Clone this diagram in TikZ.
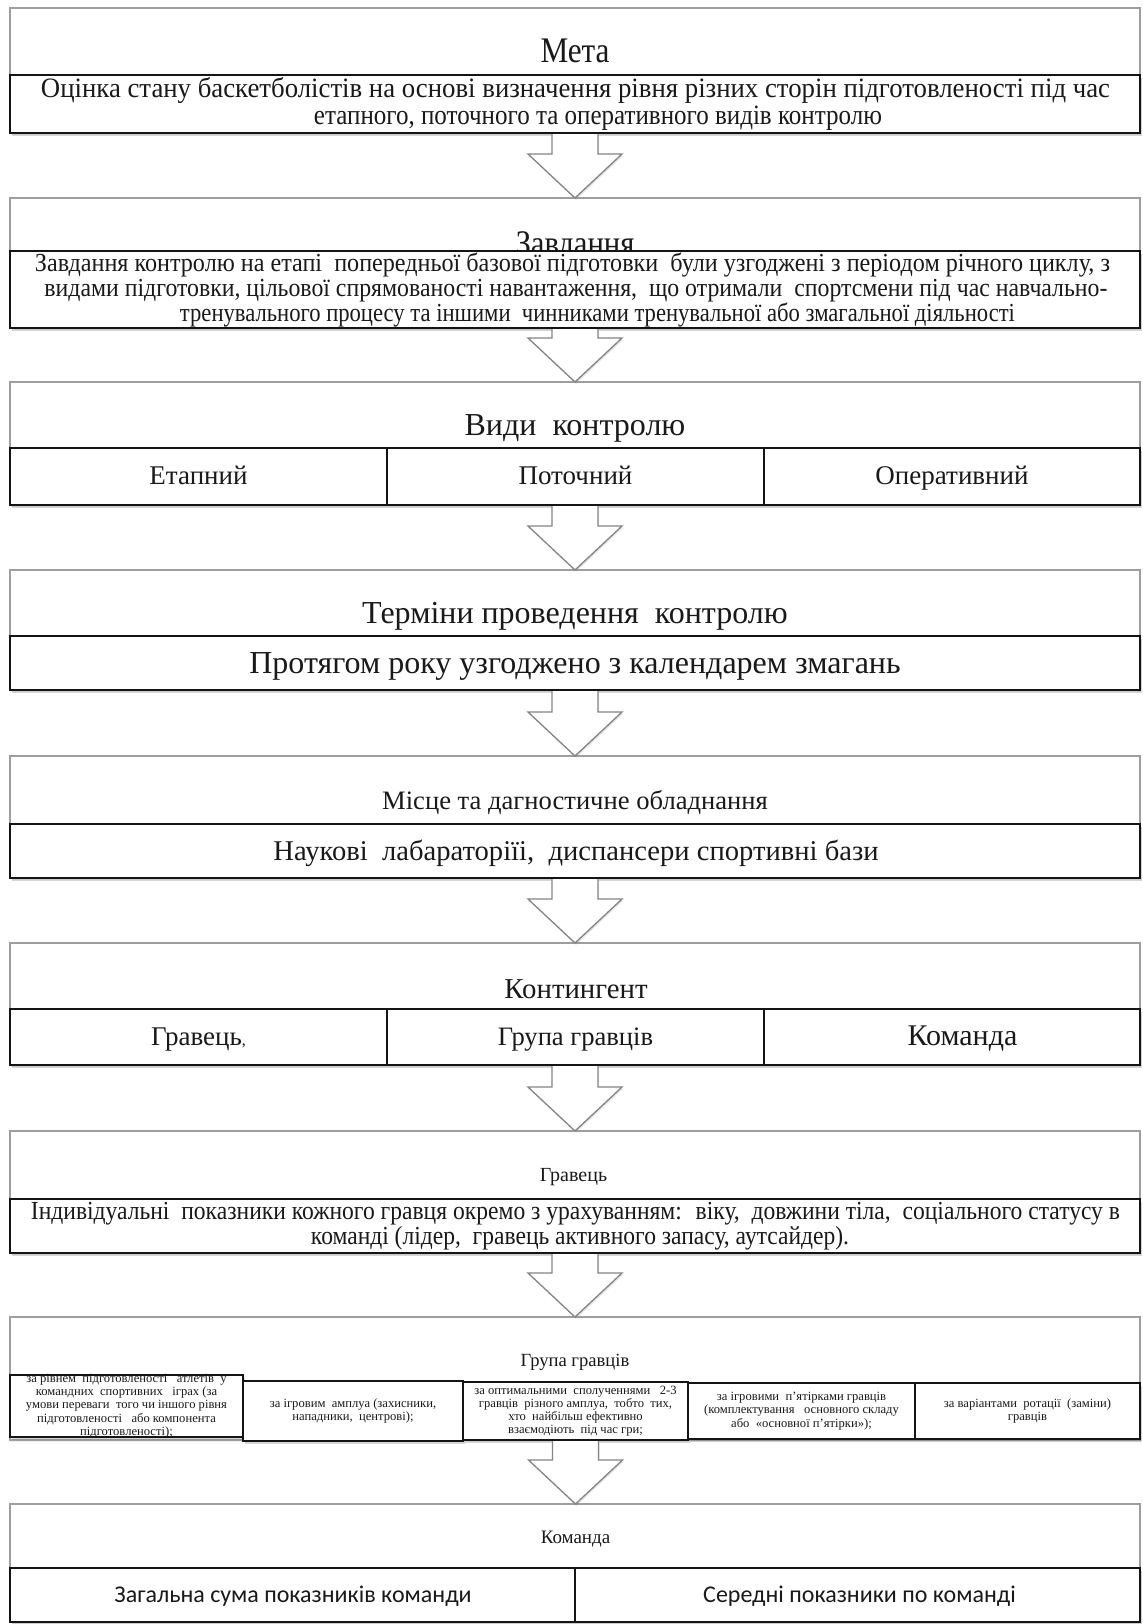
\documentclass[tikz,border=0pt]{standalone}
\usepackage{fontspec}
\setmainfont{Liberation Serif}
\newfontfamily\calibrifont{Carlito}
\usepackage{graphicx}
\usetikzlibrary{calc,fit,shadows}

% horizontally squeeze (or stretch) a line to a given width, keeping its height
\newcommand\narrowto[2]{\resizebox{#1}{\height}{#2}}
\newcommand\fsz[1]{\fontsize{#1}{#1}\selectfont}

\tikzset{
  outerbox/.style={draw=black!38, line width=0.8pt, fill=white, inner sep=0pt, outer sep=0pt,
    drop shadow={shadow xshift=0.6pt, shadow yshift=-0.9pt, opacity=0.12}},
  innerbox/.style={draw=black!92, line width=1.25pt, fill=white, inner sep=0pt, outer sep=0pt,
    drop shadow={shadow xshift=0.8pt, shadow yshift=-1.4pt, opacity=0.32}},
  cellbox/.style={draw=black!92, line width=1.25pt, inner sep=0pt, outer sep=0pt},
  txt/.style={inner sep=0pt, outer sep=0pt, anchor=base, text=black!90},
  blocktxt/.style={inner sep=0pt, outer sep=0pt, align=center, text=black!90,
    font=\fontsize{6.3}{6.6}\selectfont},
  blockarrow/.style={draw=black!48, line width=0.65pt, fill=white, line join=miter,
    drop shadow={shadow xshift=0.5pt, shadow yshift=-0.9pt, opacity=0.2}},
}

% hollow block arrow from the bottom of one box to the top of the next
\newcommand\flowarrow[2]{%
  \draw[blockarrow] let \p1=(#1), \p2=(#2) in
    ({\x1-11.5pt},{\y1-0.6pt}) -- ({\x1-11.5pt},{\y2+22pt}) -- ({\x1-23.5pt},{\y2+22pt})
    -- (\x1,\y2) -- ({\x1+23.5pt},{\y2+22pt}) -- ({\x1+11.5pt},{\y2+22pt})
    -- ({\x1+11.5pt},{\y1-0.6pt});}

\begin{document}
\begin{tikzpicture}[x=0.5pt,y=-0.5pt]
\useasboundingbox (0,0) rectangle (1142,1624);
\fill[white] (0,0) rectangle (1142,1624);

% ---------- Мета
\node[outerbox, fit={(10,8) (1140,133)}] (o1) {};
\node[txt, font=\fsz{18}] (t1) at (575,62) {\narrowto{34.5pt}{Мета}};
\node[innerbox, fit={(10,75) (1140,133)}] (i1) {};
\node[txt, font=\fsz{14}] (i1a) at (575.5,97.5)
  {\narrowto{534.5pt}{Оцінка стану баскетболістів на основі визначення рівня різних сторін підготовленості під час}};
\node[txt, font=\fsz{14}] (i1b) at (598,124.5)
  {\narrowto{284pt}{етапного, поточного та оперативного видів контролю}};

% ---------- Завдання
\node[outerbox, fit={(10,198) (1140,328)}] (o2) {};
\node[txt, font=\fsz{18}] (t2) at (575,255) {\narrowto{59.5pt}{Завдання}};
\node[innerbox, fit={(10,251) (1140,328)}] (i2) {};
\node[txt, font=\fsz{13}] (i2a) at (572.5,271)
  {\narrowto{537.5pt}{Завдання контролю на етапі~ попередньої базової підготовки~ були узгоджені з періодом річного циклу, з}};
\node[txt, font=\fsz{13}] (i2b) at (576,296)
  {\narrowto{531.5pt}{видами підготовки, цільової спрямованості навантаження,~ що отримали~ спортсмени під час навчально-}};
\node[txt, font=\fsz{13}] (i2c) at (597.5,321)
  {\narrowto{417.5pt}{тренувального процесу та іншими~ чинниками тренувальної або змагальної діяльності}};

% ---------- Види контролю
\node[outerbox, fit={(10,382) (1140,505)}] (o3) {};
\node[txt, font=\fsz{16}] (t3) at (575,435.5) {Види~ контролю};
\node[innerbox, fit={(10,448) (1140,505)}] (i3) {};
\node[cellbox, fit={(10,448) (387,505)}] (c31) {};
\node[cellbox, fit={(387,448) (764,505)}] (c32) {};
\node[cellbox, fit={(764,448) (1140,505)}] (c33) {};
\node[txt, font=\fsz{13.5}] (c31t) at (198.5,484) {Етапний};
\node[txt, font=\fsz{13.5}] (c32t) at (575.5,484) {Поточний};
\node[txt, font=\fsz{13.5}] (c33t) at (952,484) {Оперативний};

% ---------- Терміни проведення контролю
\node[outerbox, fit={(10,570) (1140,690)}] (o4) {};
\node[txt, font=\fsz{16}] (t4) at (575,623.5) {Терміни проведення~ контролю};
\node[innerbox, fit={(10,636) (1140,690)}] (i4) {};
\node[txt, font=\fsz{16}] (i4a) at (575,673) {Протягом року узгоджено з календарем змагань};

% ---------- Місце та діагностичне обладнання
\node[outerbox, fit={(10,756) (1140,878)}] (o5) {};
\node[txt, font=\fsz{13.3}] (t5) at (575,809.5) {Місце та дагностичне обладнання};
\node[innerbox, fit={(10,824) (1140,878)}] (i5) {};
\node[txt, font=\fsz{14.3}] (i5a) at (576,860.5) {Наукові~ лабараторіїі,~ диспансери спортивні бази};

% ---------- Контингент
\node[outerbox, fit={(10,943) (1140,1065)}] (o6) {};
\node[txt, font=\fsz{14.4}] (t6) at (576,998) {Контингент};
\node[innerbox, fit={(10,1009) (1140,1065)}] (i6) {};
\node[cellbox, fit={(10,1009) (387,1065)}] (c61) {};
\node[cellbox, fit={(387,1009) (764,1065)}] (c62) {};
\node[cellbox, fit={(764,1009) (1140,1065)}] (c63) {};
\node[txt, font=\fsz{13.5}] (c61t) at (198.5,1045) {Гравець{\fsz{8},}};
\node[txt, font=\fsz{13.3}] (c62t) at (575.5,1045) {Група гравців};
\node[txt, font=\fsz{15}] (c63t) at (962.5,1045) {Команда};

% ---------- Гравець
\node[outerbox, fit={(10,1131) (1140,1253)}] (o7) {};
\node[txt, font=\fsz{10}] (t7) at (573.5,1181) {Гравець};
\node[innerbox, fit={(10,1199) (1140,1253)}] (i7) {};
\node[txt, font=\fsz{13}] (i7a) at (575.5,1219.5)
  {\narrowto{544.5pt}{Індивідуальні~ показники кожного гравця окремо з урахуванням:~ віку,~ довжини тіла,~ соціального статусу в}};
\node[txt, font=\fsz{13}] (i7b) at (580,1244.5)
  {\narrowto{269pt}{команді (лідер,~ гравець активного запасу, аутсайдер).}};

% ---------- Група гравців
\node[outerbox, fit={(10,1317) (1140,1440)}] (o8) {};
\node[txt, font=\fsz{9.3}] (t8) at (575,1366) {Група гравців};
\node[innerbox, fit={(10,1375) (243,1437)}] (g1) {};
\node[innerbox, fit={(243,1381) (463,1441)}] (g2) {};
\node[innerbox, fit={(463,1382) (688,1440)}] (g3) {};
\node[innerbox, fit={(688,1383) (915,1439)}] (g4) {};
\node[innerbox, fit={(915,1383) (1140,1439)}] (g5) {};
\node[blocktxt] (g1t) at (g1.center) {за рівнем~ підготовленості~~ атлетів~ у\\командних~ спортивних~~ іграх (за\\умови переваги~ того чи іншого рівня\\підготовленості~~ або компонента\\підготовленості);};
\node[blocktxt] (g2t) at (g2.center) {за ігровим~ амплуа (захисники,\\нападники,~ центрові);};
\node[blocktxt] (g3t) at (g3.center) {за оптимальними~ сполученнями~~ 2-3\\гравців~ різного амплуа,~ тобто~ тих,\\хто~ найбільш ефективно\\взаємодіють~ під час гри;};
\node[blocktxt] (g4t) at (g4.center) {за ігровими~ п’ятірками гравців\\(комплектування~~ основного складу\\або~ «основної п’ятірки»);};
\node[blocktxt] (g5t) at (g5.center) {за варіантами~ ротації~ (заміни)\\гравців};
% frames drawn again over the text that overflows them
\foreach \g in {g1,g2,g3,g4,g5}
  \draw[cellbox] (\g.north west) rectangle (\g.south east);

% ---------- Команда
\node[outerbox, fit={(10,1504) (1140,1622)}] (o9) {};
\node[txt, font=\fsz{9.5}] (t9) at (575.5,1543) {Команда};
\node[innerbox, fit={(10,1568) (1140,1622)}] (i9) {};
\node[cellbox, fit={(10,1568) (575,1622)}] (c91) {};
\node[cellbox, fit={(575,1568) (1140,1622)}] (c92) {};
\node[txt, font=\calibrifont\fsz{12}] (c91t) at (293,1602) {Загальна сума показників команди};
\node[txt, font=\calibrifont\fsz{12}] (c92t) at (859.5,1602) {Середні показники по команді};

% ---------- arrows between the stages
\flowarrow{i1.south}{o2.north}
\flowarrow{i2.south}{o3.north}
\flowarrow{i3.south}{o4.north}
\flowarrow{i4.south}{o5.north}
\flowarrow{i5.south}{o6.north}
\flowarrow{i6.south}{o7.north}
\flowarrow{i7.south}{o8.north}
\flowarrow{g3.south}{o9.north}
\end{tikzpicture}
\end{document}
